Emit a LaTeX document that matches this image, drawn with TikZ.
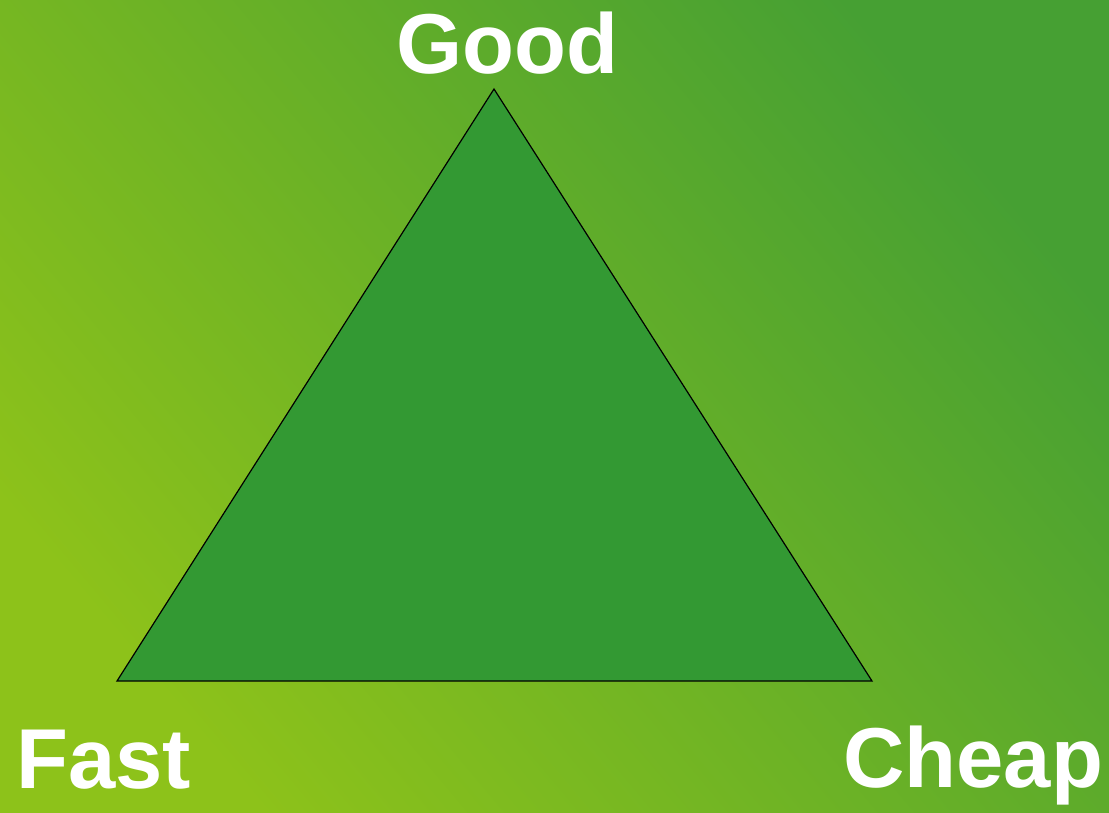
\documentclass[tikz,border=0pt]{standalone}
\usepackage{fontspec}
\setmainfont{Liberation Sans}
\definecolor{bgA}{HTML}{8DC21A}
\definecolor{bgB}{HTML}{46A033}
\definecolor{tri}{HTML}{339933}
\begin{document}
\begin{tikzpicture}[x=1pt,y=-1pt,
  lbl/.style={text=white,font=\fontsize{85}{85}\selectfont\bfseries,inner sep=0pt,anchor=base west}]
\useasboundingbox (0,0) rectangle (1109,812);
\shade[left color=bgB,right color=bgA,shading angle=-50] (0,0) rectangle (1109,812);
\coordinate (top) at (494,89);
\coordinate (bl) at (117,681);
\coordinate (br) at (872,681);
\draw[fill=tri,draw=black,line width=1.2pt,line join=miter] (top) -- (br) -- (bl) -- cycle;
\node[lbl] (good) at (396,73) {Good};
\node[lbl] (fast) at (16,788) {Fast};
\node[lbl] (cheap) at (843,787) {Cheap};
\end{tikzpicture}
\end{document}
